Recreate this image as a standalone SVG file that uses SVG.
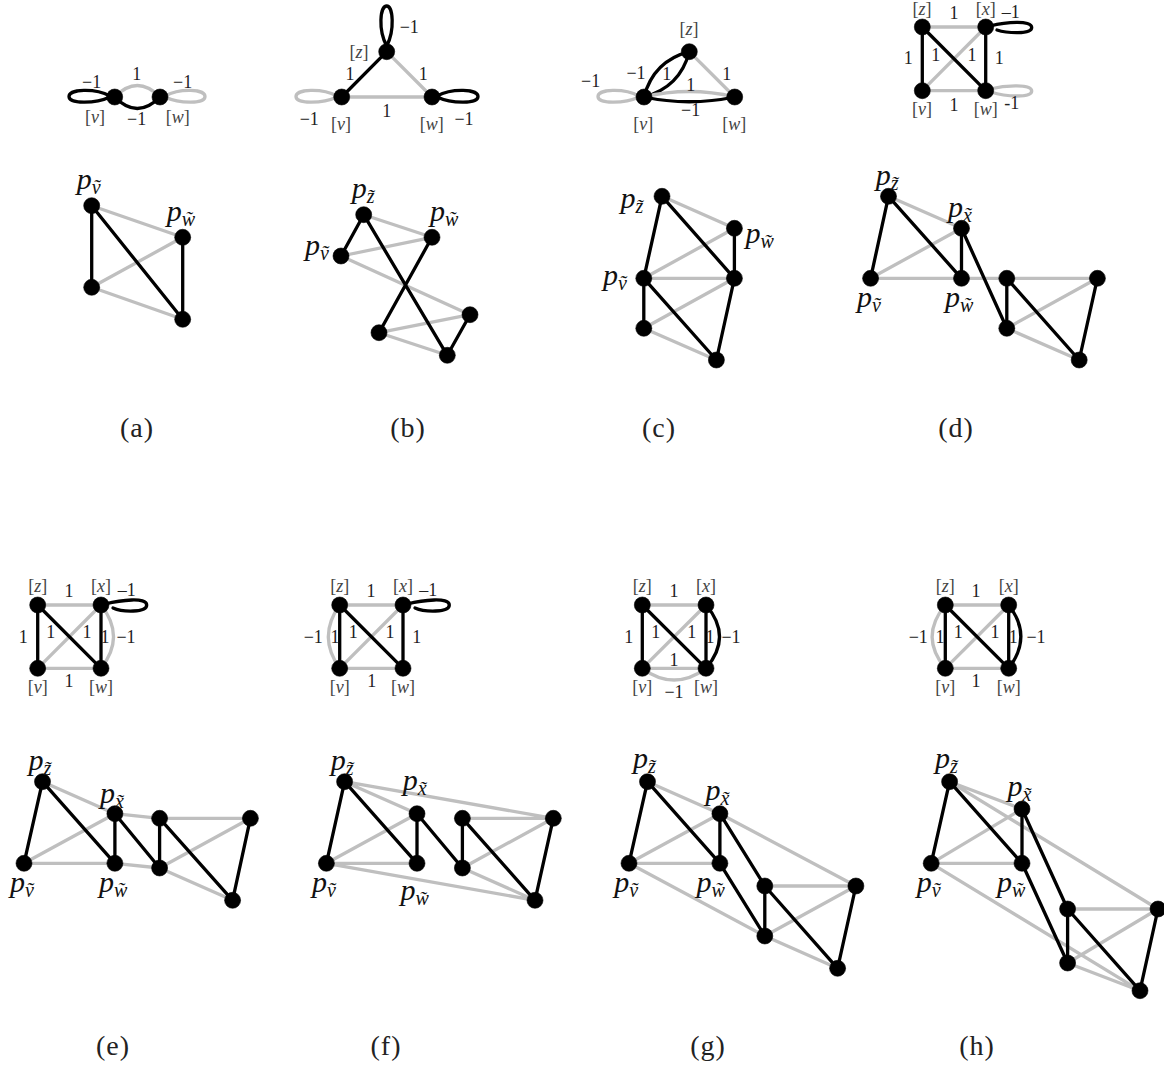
<svg xmlns="http://www.w3.org/2000/svg" width="1164" height="1068" viewBox="0 0 1164 1068">
<style>
text{font-family:"Liberation Serif","DejaVu Serif",serif;fill:#222}
.k,.g{fill:none;stroke-width:3.3;stroke-linecap:round}
.k{stroke:#000}.g{stroke:#bfbfbf}
.n{fill:#000;stroke:#000;stroke-width:.6}
.l{font-size:18px;text-anchor:middle}
.b{font-size:18px;text-anchor:middle;fill:#444}
.b tspan{font-style:italic}
.p{font-size:30px;font-style:italic;fill:#111}
.s{font-size:20px}
.c{font-size:28px;text-anchor:middle;letter-spacing:1px}
</style>
<rect width="1164" height="1068" fill="#fff"/>
<g id="connectors">
<g id="conn-a-top">
<path class="k" d="M110 96C95 88 69 89 69 96.5C69 104 95 104 110 97"/>
<path class="g" d="M165 96C180 88 205 89 205 96.5C205 104 180 104 165 97"/>
<path class="g" d="M114.700 97Q137.300 74 160 97"/>
<path class="k" d="M114.700 97Q137.300 120 160 97"/>
</g>
<g id="conn-b-top">
<path class="k" d="M386.700 46C378 30 380 6 386.700 6C393 6 395 30 386.700 46"/>
<path class="g" d="M337 96C322 88 296 89 296 96.500C296 104 322 104 337 97"/>
<path class="k" d="M437 96C452 88 478 89 478 96.500C478 104 452 104 437 97"/>
<line class="k" x1="386.700" y1="51.700" x2="341.700" y2="97"/>
<line class="g" x1="386.700" y1="51.700" x2="432" y2="97"/>
<line class="g" x1="341.700" y1="97" x2="432" y2="97"/>
</g>
<g id="conn-c-top">
<path class="g" d="M639 96C624 88 598 89 598 96.500C598 104 624 104 639 97"/>
<path class="k" d="M644 97Q653.500 61 689.300 51.700"/>
<path class="k" d="M644 97Q680 87.500 689.300 51.700"/>
<line class="g" x1="689.300" y1="51.700" x2="734.700" y2="97"/>
<path class="g" d="M644 97Q689 86 734.700 97"/>
<path class="k" d="M644 97Q689 106.500 734.700 97"/>
</g>
<g id="conn-d-top">
<path class="k" d="M990 26C1006 22 1031.700 20 1031.700 27.500C1031.700 35 1006 33 997 30"/>
<path class="g" d="M990 89C1006 85 1031.700 84 1031.700 91C1031.700 98 1006 97 991 92"/>
<line class="g" x1="922.300" y1="27" x2="985.700" y2="27"/>
<line class="g" x1="922.300" y1="90.700" x2="985.700" y2="90.700"/>
<line class="g" x1="922.300" y1="90.700" x2="985.700" y2="27"/>
<line class="k" x1="922.300" y1="27" x2="922.300" y2="90.700"/>
<line class="k" x1="985.700" y1="27" x2="985.700" y2="90.700"/>
<line class="k" x1="922.300" y1="27" x2="985.700" y2="90.700"/>
</g>
<g id="conn-e-top">
<path class="k" d="M105 604C121 600 146.700 597 146.700 605C146.700 613 122 612 113 608"/>
<path class="g" d="M101 605Q126 636.600 101 668.300"/>
<line class="g" x1="37.700" y1="605" x2="101" y2="605"/>
<line class="g" x1="37.700" y1="668.300" x2="101" y2="668.300"/>
<line class="g" x1="37.700" y1="668.300" x2="101" y2="605"/>
<line class="k" x1="37.700" y1="605" x2="37.700" y2="668.300"/>
<line class="k" x1="101" y1="605" x2="101" y2="668.300"/>
<line class="k" x1="37.700" y1="605" x2="101" y2="668.300"/>
</g>
<g id="conn-f-top">
<path class="k" d="M407 604C423 600 449.300 597 449.300 605C449.300 613 424 612 415 608"/>
<path class="g" d="M339.700 605Q317 636.600 339.700 668.300"/>
<line class="g" x1="339.700" y1="605" x2="403" y2="605"/>
<line class="g" x1="339.700" y1="668.300" x2="403" y2="668.300"/>
<line class="g" x1="339.700" y1="668.300" x2="403" y2="605"/>
<line class="k" x1="339.700" y1="605" x2="339.700" y2="668.300"/>
<line class="k" x1="403" y1="605" x2="403" y2="668.300"/>
<line class="k" x1="339.700" y1="605" x2="403" y2="668.300"/>
</g>
<g id="conn-g-top">
<path class="k" d="M706 605Q733 636.600 706 668.300"/>
<path class="g" d="M642.300 668.300Q674 691.700 706 668.300"/>
<line class="g" x1="642.300" y1="605" x2="706" y2="605"/>
<line class="g" x1="642.300" y1="668.300" x2="706" y2="668.300"/>
<line class="g" x1="642.300" y1="668.300" x2="706" y2="605"/>
<line class="k" x1="642.300" y1="605" x2="642.300" y2="668.300"/>
<line class="k" x1="706" y1="605" x2="706" y2="668.300"/>
<line class="k" x1="642.300" y1="605" x2="706" y2="668.300"/>
</g>
<g id="conn-h-top">
<path class="k" d="M1008.700 605Q1033 636.600 1008.700 668.300"/>
<path class="g" d="M945.300 605Q919 636.600 945.300 668.300"/>
<line class="g" x1="945.300" y1="605" x2="1008.700" y2="605"/>
<line class="g" x1="945.300" y1="668.300" x2="1008.700" y2="668.300"/>
<line class="g" x1="945.300" y1="668.300" x2="1008.700" y2="605"/>
<line class="k" x1="945.300" y1="605" x2="945.300" y2="668.300"/>
<line class="k" x1="1008.700" y1="605" x2="1008.700" y2="668.300"/>
<line class="k" x1="945.300" y1="605" x2="1008.700" y2="668.300"/>
</g>
<g id="conn-a-bottom">
<path class="g" d="M91.700 205.700L182.700 237.300M91.700 287.300L182.700 237.300M91.700 287.300L182.700 319.300"/>
<path class="k" d="M91.700 205.700L91.700 287.300M91.700 205.700L182.700 319.300M182.700 237.300L182.700 319.300"/>
</g>
<g id="conn-b-bottom">
<path class="g" d="M363.700 214.700L432 237.300M341 256L432 237.300M341 256L470 314.700M379 332.700L470 314.700M379 332.700L447.300 355.300"/>
<path class="k" d="M341 256L363.700 214.700M363.700 214.700L447.300 355.300M432 237.300L379 332.700M470 314.700L447.300 355.300"/>
</g>
<g id="conn-c-bottom">
<path class="g" d="M662 196.300L734.400 228.300M734.400 228.300L643.800 278.300M643.800 278.300L734.400 278.300M734.400 278.300L643.800 328.300M643.800 328.300L716.400 360"/>
<path class="k" d="M662 196.300L643.800 278.300M662 196.300L734.400 278.300M734.400 228.300L734.400 278.300M643.800 278.300L643.800 328.300M643.800 278.300L716.400 360M734.400 278.300L716.400 360"/>
</g>
<g id="conn-d-bottom">
<path class="g" d="M888.500 196.300L961.500 228.300M961.500 228.300L870.600 278.300M870.600 278.300L1097.400 278.300M1006.800 328.300L1097.400 278.300M1006.800 328.300L1079.200 360"/>
<path class="k" d="M888.500 196.300L870.600 278.300M888.500 196.300L961.500 278.300M961.500 228.300L961.500 278.300M961.500 228.300L1006.800 328.300M1006.800 278.300L1006.800 328.300M1006.800 278.300L1079.200 360M1097.400 278.300L1079.200 360"/>
</g>
<g id="conn-e-bottom">
<path class="g" d="M42.500 781.700L114.900 813.700M114.900 813.700L24 863.300M24 863.300L114.900 863.300M114.900 813.700L159.600 818.300M114.900 863.300L159.600 868M159.600 818.300L250.400 818.300M159.600 868L250.400 818.300M159.600 868L232.600 900.300"/>
<path class="k" d="M42.500 781.700L24 863.300M42.500 781.700L114.900 863.300M114.900 813.700L114.900 863.300M114.900 813.700L159.600 868M159.600 818.300L159.600 868M159.600 818.300L232.600 900.300M250.400 818.300L232.600 900.300"/>
</g>
<g id="conn-f-bottom">
<path class="g" d="M344.600 781.700L417 813.700M417 813.700L326.400 863.300M326.400 863.300L417 863.300M344.600 781.700L553.300 818.300M462.400 818.300L553.300 818.300M462.400 868L553.300 818.300M462.400 868L535 900.300M326.400 863.300L535 900.300"/>
<path class="k" d="M344.600 781.700L326.400 863.300M344.600 781.700L417 863.300M417 813.700L417 863.300M417 813.700L462.400 868M462.400 818.300L462.400 868M462.400 818.300L535 900.300M553.300 818.300L535 900.300"/>
</g>
<g id="conn-g-bottom">
<path class="g" d="M647.500 781.700L719.900 813.700M719.900 813.700L629 863.300M629 863.300L719.900 863.300M719.900 813.700L855.900 886M764.800 886L855.900 886M764.800 936L855.900 886M764.800 936L837.600 968.300M629 863.300L764.800 936"/>
<path class="k" d="M647.500 781.700L629 863.300M647.500 781.700L719.900 863.300M719.900 813.700L719.900 863.300M719.900 813.700L764.800 886M719.900 863.300L764.800 936M764.800 886L764.800 936M764.800 886L837.600 968.300M855.900 886L837.600 968.300"/>
</g>
<g id="conn-h-bottom">
<path class="g" d="M949.600 781.700L1022 809M1022 809L931.200 863.300M931.200 863.300L1022 863.300M949.600 781.700L1158 909M1067.600 909L1158 909M1067.600 963L1158 909M1067.600 963L1140 990.700M931.200 863.300L1140 990.700"/>
<path class="k" d="M949.600 781.700L931.200 863.300M949.600 781.700L1022 863.300M1022 809L1022 863.300M1022 809L1067.600 909M1022 863.300L1067.600 963M1067.600 909L1067.600 963M1067.600 909L1140 990.700M1158 909L1140 990.700"/>
</g>
</g>
<g id="edge-labels">
<text class="l" x="91.700" y="88">−1</text><text class="l" x="136.700" y="80">1</text><text class="l" x="182.700" y="88">−1</text><text class="l" x="136.700" y="125">−1</text>
<text class="l" x="409.300" y="33.300">−1</text><text class="l" x="350" y="80">1</text><text class="l" x="423.300" y="80">1</text><text class="l" x="309.300" y="125">−1</text><text class="l" x="464" y="125">−1</text><text class="l" x="386.700" y="116.700">1</text>
<text class="l" x="636" y="78.700">−1</text><text class="l" x="666.700" y="80">1</text><text class="l" x="726.700" y="80">1</text><text class="l" x="590.700" y="87.300">−1</text><text class="l" x="690.700" y="90.700">1</text><text class="l" x="690.700" y="115.700">−1</text>
<text class="l" x="954" y="19.300">1</text><text class="l" x="1010.700" y="18.300">–1</text><text class="l" x="908.300" y="64">1</text><text class="l" x="935.700" y="60.700">1</text><text class="l" x="972" y="60.700">1</text><text class="l" x="999.300" y="64">1</text><text class="l" x="954" y="110.700">1</text><text class="l" x="1011.700" y="109.300">-1</text>
<text class="l" x="69" y="597.300">1</text><text class="l" x="126.700" y="595.700">–1</text><text class="l" x="23.300" y="642.700">1</text><text class="l" x="50.700" y="638.300">1</text><text class="l" x="87" y="638.300">1</text><text class="l" x="105" y="642.700">1</text><text class="l" x="126" y="642.700">−1</text><text class="l" x="69" y="687.300">1</text>
<text class="l" x="371" y="597.300">1</text><text class="l" x="428.300" y="595.700">–1</text><text class="l" x="313.300" y="642.700">−1</text><text class="l" x="335" y="642.700">1</text><text class="l" x="353.300" y="638.300">1</text><text class="l" x="390" y="638.300">1</text><text class="l" x="416.700" y="642.700">1</text><text class="l" x="371.700" y="687.300">1</text>
<text class="l" x="674" y="597.300">1</text><text class="l" x="628.700" y="642.700">1</text><text class="l" x="655.700" y="638.300">1</text><text class="l" x="691.700" y="638.300">1</text><text class="l" x="710" y="642.700">1</text><text class="l" x="731" y="642.700">−1</text><text class="l" x="674" y="666">1</text><text class="l" x="674" y="698.300">−1</text>
<text class="l" x="976" y="597.300">1</text><text class="l" x="918.300" y="642.700">−1</text><text class="l" x="940" y="642.700">1</text><text class="l" x="958.300" y="638.300">1</text><text class="l" x="995" y="638.300">1</text><text class="l" x="1013.300" y="642.700">1</text><text class="l" x="1036" y="642.700">−1</text><text class="l" x="976" y="687.300">1</text>
</g>
<g id="a-top-v"><circle class="n" cx="114.700" cy="97" r="8"/><text class="b" x="95" y="122.700">[<tspan>v</tspan>]</text></g>
<g id="a-top-w"><circle class="n" cx="160" cy="97" r="8"/><text class="b" x="177.700" y="122.700">[<tspan>w</tspan>]</text></g>
<g id="b-top-z"><circle class="n" cx="386.700" cy="51.700" r="8"/><text class="b" x="359" y="58.300">[<tspan>z</tspan>]</text></g>
<g id="b-top-v"><circle class="n" cx="341.700" cy="97" r="8"/><text class="b" x="341" y="130">[<tspan>v</tspan>]</text></g>
<g id="b-top-w"><circle class="n" cx="432" cy="97" r="8"/><text class="b" x="431.700" y="130">[<tspan>w</tspan>]</text></g>
<g id="c-top-z"><circle class="n" cx="689.300" cy="51.700" r="8"/><text class="b" x="689" y="35">[<tspan>z</tspan>]</text></g>
<g id="c-top-v"><circle class="n" cx="644" cy="97" r="8"/><text class="b" x="643.300" y="130">[<tspan>v</tspan>]</text></g>
<g id="c-top-w"><circle class="n" cx="734.700" cy="97" r="8"/><text class="b" x="734.300" y="130">[<tspan>w</tspan>]</text></g>
<g id="d-top-z"><circle class="n" cx="922.300" cy="27" r="8"/><text class="b" x="922" y="15">[<tspan>z</tspan>]</text></g>
<g id="d-top-x"><circle class="n" cx="985.700" cy="27" r="8"/><text class="b" x="985.700" y="15">[<tspan>x</tspan>]</text></g>
<g id="d-top-v"><circle class="n" cx="922.300" cy="90.700" r="8"/><text class="b" x="922" y="115">[<tspan>v</tspan>]</text></g>
<g id="d-top-w"><circle class="n" cx="985.700" cy="90.700" r="8"/><text class="b" x="985.700" y="115">[<tspan>w</tspan>]</text></g>
<g id="e-top-z"><circle class="n" cx="37.700" cy="605" r="8"/><text class="b" x="37.700" y="591.700">[<tspan>z</tspan>]</text></g>
<g id="e-top-x"><circle class="n" cx="101" cy="605" r="8"/><text class="b" x="101" y="591.700">[<tspan>x</tspan>]</text></g>
<g id="e-top-v"><circle class="n" cx="37.700" cy="668.300" r="8"/><text class="b" x="37.700" y="692.700">[<tspan>v</tspan>]</text></g>
<g id="e-top-w"><circle class="n" cx="101" cy="668.300" r="8"/><text class="b" x="101" y="692.700">[<tspan>w</tspan>]</text></g>
<g id="f-top-z"><circle class="n" cx="339.700" cy="605" r="8"/><text class="b" x="339.700" y="591.700">[<tspan>z</tspan>]</text></g>
<g id="f-top-x"><circle class="n" cx="403" cy="605" r="8"/><text class="b" x="403" y="591.700">[<tspan>x</tspan>]</text></g>
<g id="f-top-v"><circle class="n" cx="339.700" cy="668.300" r="8"/><text class="b" x="339.700" y="692.700">[<tspan>v</tspan>]</text></g>
<g id="f-top-w"><circle class="n" cx="403" cy="668.300" r="8"/><text class="b" x="403" y="692.700">[<tspan>w</tspan>]</text></g>
<g id="g-top-z"><circle class="n" cx="642.300" cy="605" r="8"/><text class="b" x="642.300" y="591.700">[<tspan>z</tspan>]</text></g>
<g id="g-top-x"><circle class="n" cx="706" cy="605" r="8"/><text class="b" x="706" y="591.700">[<tspan>x</tspan>]</text></g>
<g id="g-top-v"><circle class="n" cx="642.300" cy="668.300" r="8"/><text class="b" x="642.300" y="692.700">[<tspan>v</tspan>]</text></g>
<g id="g-top-w"><circle class="n" cx="706" cy="668.300" r="8"/><text class="b" x="706" y="692.700">[<tspan>w</tspan>]</text></g>
<g id="h-top-z"><circle class="n" cx="945.300" cy="605" r="8"/><text class="b" x="945.300" y="591.700">[<tspan>z</tspan>]</text></g>
<g id="h-top-x"><circle class="n" cx="1008.700" cy="605" r="8"/><text class="b" x="1008.700" y="591.700">[<tspan>x</tspan>]</text></g>
<g id="h-top-v"><circle class="n" cx="945.300" cy="668.300" r="8"/><text class="b" x="945.300" y="692.700">[<tspan>v</tspan>]</text></g>
<g id="h-top-w"><circle class="n" cx="1008.700" cy="668.300" r="8"/><text class="b" x="1008.700" y="692.700">[<tspan>w</tspan>]</text></g>

<g id="a-v"><circle class="n" cx="91.700" cy="205.700" r="8"/><text class="p" x="76.700" y="189">p<tspan class="s" dy="5">ṽ</tspan></text></g>
<g id="a-w"><circle class="n" cx="182.700" cy="237.300" r="8"/><text class="p" x="166.700" y="220.700">p<tspan class="s" dy="5">w̃</tspan></text></g>
<g id="a-3"><circle class="n" cx="91.700" cy="287.300" r="8"/></g>
<g id="a-4"><circle class="n" cx="182.700" cy="319.300" r="8"/></g>

<g id="b-z"><circle class="n" cx="363.700" cy="214.700" r="8"/><text class="p" x="351.700" y="198">p<tspan class="s" dy="5">z̃</tspan></text></g>
<g id="b-w"><circle class="n" cx="432" cy="237.300" r="8"/><text class="p" x="430" y="220.700">p<tspan class="s" dy="5">w̃</tspan></text></g>
<g id="b-v"><circle class="n" cx="341" cy="256" r="8"/><text class="p" x="305" y="255">p<tspan class="s" dy="5">ṽ</tspan></text></g>
<g id="b-4"><circle class="n" cx="470" cy="314.700" r="8"/></g>
<g id="b-5"><circle class="n" cx="379" cy="332.700" r="8"/></g>
<g id="b-6"><circle class="n" cx="447.300" cy="355.300" r="8"/></g>

<g id="c-z"><circle class="n" cx="662" cy="196.300" r="8"/><text class="p" x="620.400" y="208">p<tspan class="s" dy="5">z̃</tspan></text></g>
<g id="c-w"><circle class="n" cx="734.400" cy="228.300" r="8"/><text class="p" x="745.500" y="243">p<tspan class="s" dy="5">w̃</tspan></text></g>
<g id="c-v"><circle class="n" cx="643.800" cy="278.300" r="8"/><text class="p" x="603" y="285">p<tspan class="s" dy="5">ṽ</tspan></text></g>
<g id="c-4"><circle class="n" cx="734.400" cy="278.300" r="8"/></g>
<g id="c-5"><circle class="n" cx="643.800" cy="328.300" r="8"/></g>
<g id="c-6"><circle class="n" cx="716.400" cy="360" r="8"/></g>

<g id="d-z"><circle class="n" cx="888.500" cy="196.300" r="8"/><text class="p" x="875.700" y="185">p<tspan class="s" dy="5">z̃</tspan></text></g>
<g id="d-x"><circle class="n" cx="961.500" cy="228.300" r="8"/><text class="p" x="948" y="216.700">p<tspan class="s" dy="5">x̃</tspan></text></g>
<g id="d-v"><circle class="n" cx="870.600" cy="278.300" r="8"/><text class="p" x="857" y="306.700">p<tspan class="s" dy="5">ṽ</tspan></text></g>
<g id="d-w"><circle class="n" cx="961.500" cy="278.300" r="8"/><text class="p" x="945" y="306.700">p<tspan class="s" dy="5">w̃</tspan></text></g>
<g id="d-5"><circle class="n" cx="1006.800" cy="278.300" r="8"/></g>
<g id="d-6"><circle class="n" cx="1097.400" cy="278.300" r="8"/></g>
<g id="d-7"><circle class="n" cx="1006.800" cy="328.300" r="8"/></g>
<g id="d-8"><circle class="n" cx="1079.200" cy="360" r="8"/></g>

<g id="e-z"><circle class="n" cx="42.500" cy="781.700" r="8"/><text class="p" x="28.400" y="770">p<tspan class="s" dy="5">z̃</tspan></text></g>
<g id="e-x"><circle class="n" cx="114.900" cy="813.700" r="8"/><text class="p" x="100" y="803.300">p<tspan class="s" dy="5">x̃</tspan></text></g>
<g id="e-v"><circle class="n" cx="24" cy="863.300" r="8"/><text class="p" x="10" y="891.700">p<tspan class="s" dy="5">ṽ</tspan></text></g>
<g id="e-w"><circle class="n" cx="114.900" cy="863.300" r="8"/><text class="p" x="98.900" y="891.700">p<tspan class="s" dy="5">w̃</tspan></text></g>
<g id="e-5"><circle class="n" cx="159.600" cy="818.300" r="8"/></g>
<g id="e-6"><circle class="n" cx="159.600" cy="868" r="8"/></g>
<g id="e-7"><circle class="n" cx="250.400" cy="818.300" r="8"/></g>
<g id="e-8"><circle class="n" cx="232.600" cy="900.300" r="8"/></g>

<g id="f-z"><circle class="n" cx="344.600" cy="781.700" r="8"/><text class="p" x="330.800" y="770">p<tspan class="s" dy="5">z̃</tspan></text></g>
<g id="f-x"><circle class="n" cx="417" cy="813.700" r="8"/><text class="p" x="402.800" y="790">p<tspan class="s" dy="5">x̃</tspan></text></g>
<g id="f-v"><circle class="n" cx="326.400" cy="863.300" r="8"/><text class="p" x="312" y="891.700">p<tspan class="s" dy="5">ṽ</tspan></text></g>
<g id="f-w"><circle class="n" cx="417" cy="863.300" r="8"/><text class="p" x="400.600" y="900">p<tspan class="s" dy="5">w̃</tspan></text></g>
<g id="f-5"><circle class="n" cx="462.400" cy="818.300" r="8"/></g>
<g id="f-6"><circle class="n" cx="462.400" cy="868" r="8"/></g>
<g id="f-7"><circle class="n" cx="553.300" cy="818.300" r="8"/></g>
<g id="f-8"><circle class="n" cx="535" cy="900.300" r="8"/></g>

<g id="g-z"><circle class="n" cx="647.500" cy="781.700" r="8"/><text class="p" x="633" y="768.300">p<tspan class="s" dy="5">z̃</tspan></text></g>
<g id="g-x"><circle class="n" cx="719.900" cy="813.700" r="8"/><text class="p" x="705.400" y="800">p<tspan class="s" dy="5">x̃</tspan></text></g>
<g id="g-v"><circle class="n" cx="629" cy="863.300" r="8"/><text class="p" x="614.200" y="891.700">p<tspan class="s" dy="5">ṽ</tspan></text></g>
<g id="g-w"><circle class="n" cx="719.900" cy="863.300" r="8"/><text class="p" x="696.600" y="891.700">p<tspan class="s" dy="5">w̃</tspan></text></g>
<g id="g-5"><circle class="n" cx="764.800" cy="886" r="8"/></g>
<g id="g-6"><circle class="n" cx="855.900" cy="886" r="8"/></g>
<g id="g-7"><circle class="n" cx="764.800" cy="936" r="8"/></g>
<g id="g-8"><circle class="n" cx="837.600" cy="968.300" r="8"/></g>

<g id="h-z"><circle class="n" cx="949.600" cy="781.700" r="8"/><text class="p" x="935" y="768.300">p<tspan class="s" dy="5">z̃</tspan></text></g>
<g id="h-x"><circle class="n" cx="1022" cy="809" r="8"/><text class="p" x="1007.500" y="796">p<tspan class="s" dy="5">x̃</tspan></text></g>
<g id="h-v"><circle class="n" cx="931.200" cy="863.300" r="8"/><text class="p" x="916.700" y="891.700">p<tspan class="s" dy="5">ṽ</tspan></text></g>
<g id="h-w"><circle class="n" cx="1022" cy="863.300" r="8"/><text class="p" x="997" y="891.700">p<tspan class="s" dy="5">w̃</tspan></text></g>
<g id="h-5"><circle class="n" cx="1067.600" cy="909" r="8"/></g>
<g id="h-6"><circle class="n" cx="1158" cy="909" r="8"/></g>
<g id="h-7"><circle class="n" cx="1067.600" cy="963" r="8"/></g>
<g id="h-8"><circle class="n" cx="1140" cy="990.700" r="8"/></g>
<g id="captions">
<text class="c" x="137" y="437">(a)</text><text class="c" x="408" y="437">(b)</text><text class="c" x="659" y="437">(c)</text><text class="c" x="956" y="437">(d)</text>
<text class="c" x="113" y="1055">(e)</text><text class="c" x="386" y="1055">(f)</text><text class="c" x="708" y="1055">(g)</text><text class="c" x="977" y="1055">(h)</text>
</g>
</svg>
